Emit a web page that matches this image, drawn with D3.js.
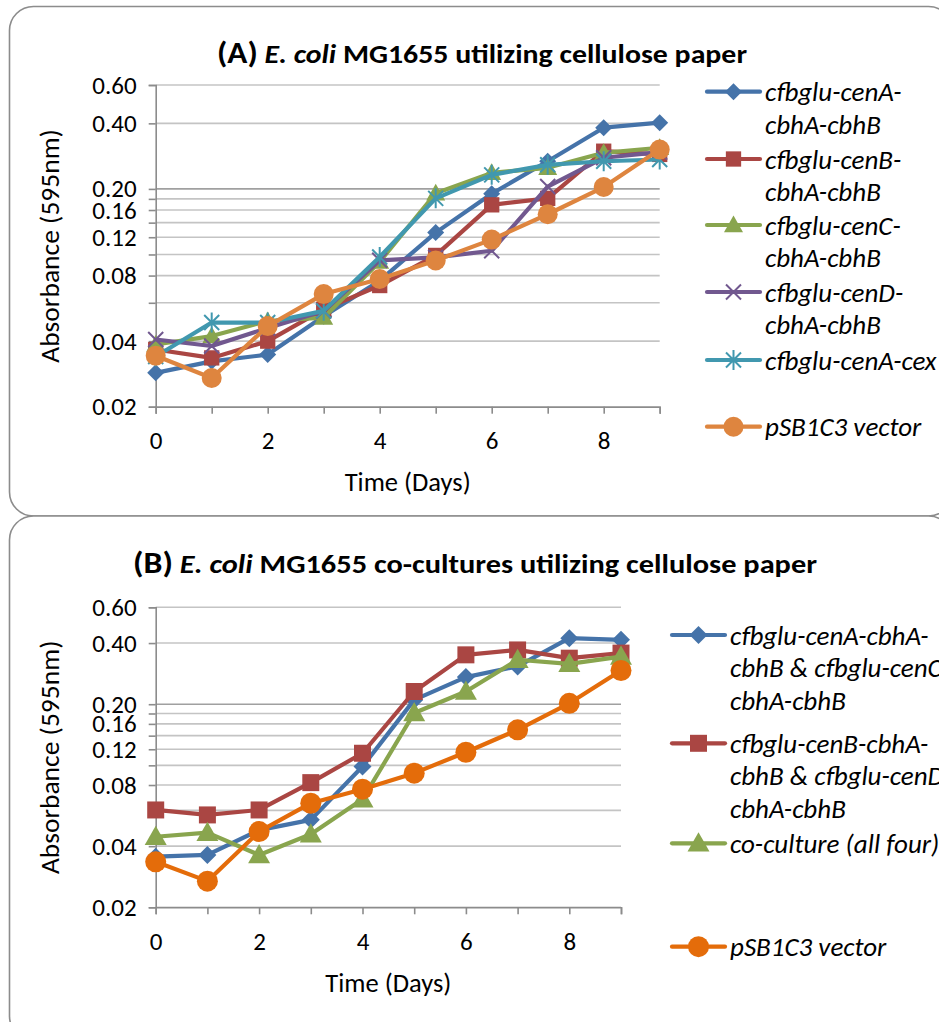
<!DOCTYPE html>
<html><head><meta charset="utf-8">
<script src="https://cdn.jsdelivr.net/npm/d3@7"></script>
<style>
html,body{margin:0;padding:0;background:#fff;overflow:hidden;}
svg{display:block;font-family:Carlito,Lato,"Open Sans",sans-serif;}
</style></head>
<body><svg id="c" width="939" height="1022"></svg>
<script>
// ---------- data ----------
const days = [0,1,2,3,4,5,6,7,8,9];
const xTickLabels = [0,2,4,6,8];
const yGridValues = [0.02,0.04,0.06,0.08,0.10,0.12,0.14,0.16,0.18,0.20,0.40,0.60];
const yTickLabels = [0.02,0.04,0.08,0.12,0.16,0.20,0.40,0.60];

// Panel A
const aNames = ["cfbglu-cenA-cbhA-cbhB","cfbglu-cenB-cbhA-cbhB","cfbglu-cenC-cbhA-cbhB","cfbglu-cenD-cbhA-cbhB","cfbglu-cenA-cex","pSB1C3 vector"];
const aCenA = [0.0286,0.0323,0.0347,0.052,0.0758,0.126,0.19,0.268,0.382,0.403];
const aCenB = [0.0366,0.0335,0.040,0.056,0.072,0.099,0.169,0.181,0.298,0.288];
const aCenC = [0.0386,0.0422,0.0495,0.0513,0.0926,0.191,0.237,0.25,0.293,0.309];
const aCenD = [0.0407,0.038,0.046,0.055,0.094,0.097,0.104,0.205,0.278,0.295];
const aCex  = [0.034,0.0487,0.0487,0.0551,0.0973,0.181,0.232,0.258,0.268,0.273];
const aVec  = [0.0343,0.0271,0.0469,0.0658,0.0772,0.0939,0.117,0.153,0.204,0.303];

// Panel B
const bNames = ["cfbglu-cenA-cbhA-cbhB & cfbglu-cenC-cbhA-cbhB","cfbglu-cenB-cbhA-cbhB & cfbglu-cenD-cbhA-cbhB","co-culture (all four)","pSB1C3 vector"];
const bAC   = [0.0355,0.0362,0.048,0.0539,0.0986,0.21,0.272,0.307,0.423,0.415];
const bBD   = [0.0603,0.057,0.0603,0.0822,0.1147,0.231,0.35,0.37,0.337,0.357];
const bAll4 = [0.0445,0.0466,0.0362,0.0458,0.068,0.181,0.231,0.331,0.316,0.343];
const bVec  = [0.0335,0.0269,0.0472,0.0651,0.0763,0.0915,0.116,0.1495,0.202,0.293];

// ---------- styles ----------
const cBlue="#4573A9", cRed="#AA4643", cGreen="#89A54E", cPurple="#71588F", cCyan="#4198AF", cOrangeA="#DE853F", cOrangeB="#E46C0A";
const FONT = "Carlito,Lato,sans-serif";

const svg = d3.select("#c");

function frame(y0,y1){
  svg.append("rect").attr("x",9.5).attr("y",y0).attr("width",943).attr("height",y1-y0)
    .attr("rx",24).attr("ry",24).attr("fill","#fff").attr("stroke","#8c8c8c").attr("stroke-width",1.6);
}
frame(6.5,516);
frame(516,1040);

function markerPath(type,s){
  switch(type){
    case "diamond": return `M0,${-s}L${s},0L0,${s}L${-s},0Z`;
    case "square": return `M${-s*0.85},${-s*0.85}H${s*0.85}V${s*0.85}H${-s*0.85}Z`;
    case "triangle": return `M0,${-s}L${s},${s*0.75}L${-s},${s*0.75}Z`;
    case "x": return `M${-s*0.75},${-s*0.75}L${s*0.75},${s*0.75}M${-s*0.75},${s*0.75}L${s*0.75},${-s*0.75}`;
    case "star": return `M${-s*0.75},${-s*0.75}L${s*0.75},${s*0.75}M${-s*0.75},${s*0.75}L${s*0.75},${-s*0.75}M0,${-s}V${s}`;
  }
}
function drawMarker(g,type,color,x,y,size){
  if(type==="circle"){
    g.append("circle").attr("cx",x).attr("cy",y).attr("r",size).attr("fill",color);
  } else if(type==="x"||type==="star"){
    g.append("path").attr("transform",`translate(${x},${y})`).attr("d",markerPath(type,size))
      .attr("fill","none").attr("stroke",color).attr("stroke-width",2);
  } else {
    g.append("path").attr("transform",`translate(${x},${y})`).attr("d",markerPath(type,size)).attr("fill",color);
  }
}

function panel(cfg){
  const g = svg.append("g");
  const x = d3.scaleLinear().domain([0,9]).range([cfg.x0,cfg.x1]);
  const y = d3.scaleLog().base(2).domain([0.02,0.6]).range([cfg.yb,cfg.yt]);

  // gridlines
  g.append("g").selectAll("line").data(yGridValues).join("line")
    .attr("x1",cfg.x0).attr("x2",cfg.x1).attr("y1",d=>y(d)).attr("y2",d=>y(d))
    .attr("stroke",d=>d===0.2?"#a0a0a0":"#c4c4c4").attr("stroke-width",1.6);

  // y axis
  const isLab = d=>yTickLabels.some(v=>Math.abs(v-d)<1e-9);
  const yAxis = d3.axisLeft(y).tickValues(yGridValues).tickSize(7)
    .tickFormat(d=>isLab(d)?d.toFixed(2):"");
  const ya = g.append("g").attr("transform",`translate(${cfg.x0},0)`).call(yAxis);
  ya.select(".domain").attr("stroke","#8c8c8c").attr("stroke-width",1.6);
  ya.selectAll(".tick line").attr("stroke","#8c8c8c").attr("stroke-width",1.6);
  ya.selectAll(".tick").filter(d=>!isLab(d)).select("text").remove();
  ya.selectAll(".tick text").attr("font-family",FONT).attr("font-size",25).attr("fill","#000").attr("x",-19);

  // x axis
  const xAxis = d3.axisBottom(x).tickValues(days).tickSize(7).tickFormat(d=>xTickLabels.includes(d)?d:"");
  const xa = g.append("g").attr("transform",`translate(0,${cfg.yb})`).call(xAxis);
  xa.select(".domain").attr("stroke","#8c8c8c").attr("stroke-width",1.6);
  xa.selectAll(".tick line").attr("stroke","#8c8c8c").attr("stroke-width",1.6);
  xa.selectAll(".tick").filter(d=>!xTickLabels.includes(d)).select("text").remove();
  xa.selectAll(".tick text").attr("font-family",FONT).attr("font-size",25).attr("fill","#000").attr("y",25);

  // axis titles
  g.append("text").attr("transform",`translate(${cfg.ylabX},${(cfg.yt+cfg.yb)/2}) rotate(-90)`)
    .attr("text-anchor","middle").attr("dominant-baseline","central").attr("font-size",27.5).text("Absorbance (595nm)");
  g.append("text").attr("x",(cfg.x0+cfg.x1)/2).attr("y",cfg.xlabY).attr("text-anchor","middle")
    .attr("font-size",26.5).text("Time (Days)");

  // title
  const t = g.append("text").attr("x",cfg.titleX).attr("y",cfg.titleY).attr("text-anchor","middle")
    .attr("font-size",30).attr("font-weight","bold");
  t.append("tspan").text(cfg.titleParts[0]);
  t.append("tspan").attr("font-style","italic").attr("font-size",27).text(" E. coli");
  t.append("tspan").attr("font-size",27).text(cfg.titleParts[1]);
  t.attr("textLength",cfg.titleW).attr("lengthAdjust","spacingAndGlyphs");

  // series
  const line = d3.line().x((d,i)=>x(days[i])).y(d=>y(d));
  cfg.series.forEach(s=>{
    g.append("path").datum(s.values).attr("d",line).attr("fill","none")
      .attr("stroke",s.color).attr("stroke-width",4.2).attr("stroke-linejoin","round");
    s.values.forEach((v,i)=>drawMarker(g,s.marker,s.color,x(days[i]),y(v),s.size));
  });

  // legend
  cfg.series.forEach((s,k)=>{
    const ly = cfg.legY[k];
    g.append("line").attr("x1",cfg.legX0).attr("x2",cfg.legX0+53).attr("y1",ly).attr("y2",ly)
      .attr("stroke",s.color).attr("stroke-width",4.2).attr("stroke-linecap","round");
    drawMarker(g,s.marker,s.color,cfg.legX0+26.5,ly,s.size);
    s.lines.forEach((txt,j)=>{
      g.append("text").attr("x",cfg.legX0+58).attr("y",ly+j*cfg.legLH).attr("dominant-baseline","central")
        .attr("font-style","italic").attr("font-size",27).text(txt);
    });
  });
}

panel({
  x0:155.7, x1:659.7, yb:406.7, yt:85, ylabX:49, xlabY:491,
  titleX:482, titleY:63, titleW:530, titleParts:["(A)"," MG1655 utilizing cellulose paper"],
  legX0:707, legY:[91.7,159,225,292,360,426.7], legLH:32.5,
  series:[
    {values:aCenA,color:cBlue,marker:"diamond",size:8.5,lines:["cfbglu-cenA-","cbhA-cbhB"]},
    {values:aCenB,color:cRed,marker:"square",size:9,lines:["cfbglu-cenB-","cbhA-cbhB"]},
    {values:aCenC,color:cGreen,marker:"triangle",size:9.5,lines:["cfbglu-cenC-","cbhA-cbhB"]},
    {values:aCenD,color:cPurple,marker:"x",size:10,lines:["cfbglu-cenD-","cbhA-cbhB"]},
    {values:aCex,color:cCyan,marker:"star",size:10,lines:["cfbglu-cenA-cex"]},
    {values:aVec,color:cOrangeA,marker:"circle",size:10,lines:["pSB1C3 vector"]}
  ]
});

panel({
  x0:155.7, x1:621, yb:907.3, yt:607.3, ylabX:49, xlabY:992,
  titleX:475, titleY:573, titleW:684, titleParts:["(B)"," MG1655 co-cultures utilizing cellulose paper"],
  legX0:672, legY:[635,743.3,843.3,946.7], legLH:32.5,
  series:[
    {values:bAC,color:cBlue,marker:"diamond",size:9,lines:["cfbglu-cenA-cbhA-","cbhB & cfbglu-cenC-","cbhA-cbhB"]},
    {values:bBD,color:cRed,marker:"square",size:10,lines:["cfbglu-cenB-cbhA-","cbhB & cfbglu-cenD-","cbhA-cbhB"]},
    {values:bAll4,color:cGreen,marker:"triangle",size:11,lines:["co-culture (all four)"]},
    {values:bVec,color:cOrangeB,marker:"circle",size:10.5,lines:["pSB1C3 vector"]}
  ]
});
</script>
</body></html>
